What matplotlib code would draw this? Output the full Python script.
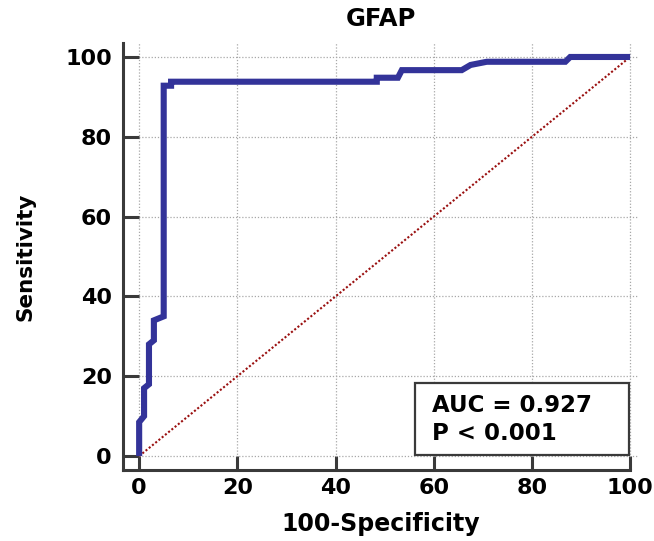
import matplotlib
matplotlib.use("Agg")
import matplotlib.pyplot as plt
from matplotlib.patches import Rectangle

# ROC curve points (100-Specificity, Sensitivity)
fpr = [0, 0, 1.0, 1.0, 2.0, 2.0, 3.0, 3.0, 5.0, 5.0, 6.5, 6.5,
       48.4, 48.4, 52.7, 53.5, 65.7, 67.5, 70.8, 86.8, 87.8, 100]
tpr = [0, 8.5, 10, 17, 18, 28, 29, 34, 35, 92.8, 92.8, 93.8,
       93.8, 94.8, 94.8, 96.7, 96.7, 98, 98.8, 98.8, 100, 100]
ref_line = [0, 100]
ticks = [0, 20, 40, 60, 80, 100]
title = "GFAP"
auc_lines = ["AUC = 0.927", "P < 0.001"]

plt.rcParams['font.family'] = 'DejaVu Sans'
plt.rcParams['font.weight'] = 'bold'

fig = plt.figure(figsize=(6.54, 5.41), dpi=100)
ax = fig.add_axes([0.188, 0.1312, 0.7875, 0.7893])

ax.plot(ref_line, ref_line, color='#9a1010', linestyle=(0, (1, 1)),
        linewidth=1.5, zorder=2)
ax.plot(fpr, tpr, color='#333399', linewidth=4.4, zorder=3,
        solid_joinstyle='miter', solid_capstyle='butt')

ax.set_xlim(-3.3, 101.6)
ax.set_ylim(-3.5, 103.5)
ax.set_xticks(ticks)
ax.set_yticks(ticks)
ax.grid(True, linestyle=(0, (1, 1.5)), color='#a8a8a8', linewidth=0.9, zorder=0)

for s in ['top', 'right']:
    ax.spines[s].set_visible(False)
for s in ['left', 'bottom']:
    ax.spines[s].set_linewidth(2.2)
    ax.spines[s].set_color('#3a3a3a')
ax.spines['bottom'].set_bounds(-3.3, 100)

ax.tick_params(axis='y', direction='in', length=11.5, width=2.2,
               color='#3a3a3a', labelsize=16, pad=8)
ax.tick_params(axis='x', direction='in', length=10, width=2.2,
               color='#3a3a3a', labelsize=16, pad=6)
for lbl in ax.get_xticklabels() + ax.get_yticklabels():
    lbl.set_fontweight('bold')

ax.set_xlabel("100-Specificity", fontsize=17, fontweight='bold', labelpad=10)
ax.set_ylabel("Sensitivity", fontsize=15.5, fontweight='bold', labelpad=21)
ax.set_title(title, fontsize=17.5, fontweight='bold', pad=12)

# AUC box
box = Rectangle((56.2, 0.3), 43.6, 18.0, facecolor='white', edgecolor='#3a3a3a',
                linewidth=1.6, zorder=4)
ax.add_patch(box)
for i, line in enumerate(auc_lines):
    ax.text(59.6, 11.1 - 7.1 * i, line, fontsize=16.5, fontweight='bold',
            va='baseline', ha='left', zorder=5)

fig.savefig("out.png", dpi=100)
